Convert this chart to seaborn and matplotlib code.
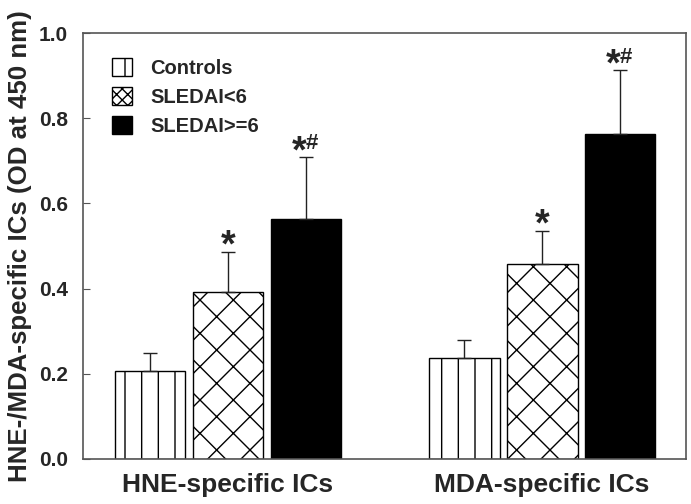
import pandas as pd
import matplotlib.pyplot as plt
import seaborn as sns
from matplotlib.patches import Patch

# Datos
groups = ["HNE-specific ICs", "MDA-specific ICs"]
levels = ["Controls", "SLEDAI<6", "SLEDAI>=6"]
means = {
    "Controls": [0.206, 0.236],
    "SLEDAI<6": [0.391, 0.457],
    "SLEDAI>=6": [0.564, 0.763],
}
errs = {
    "Controls": [0.042, 0.043],
    "SLEDAI<6": [0.096, 0.079],
    "SLEDAI>=6": [0.145, 0.150],
}
marks = {
    "Controls": ["", ""],
    "SLEDAI<6": ["*", "*"],
    "SLEDAI>=6": ["*#", "*#"],
}
yticks = [0.0, 0.2, 0.4, 0.6, 0.8, 1.0]

rows = []
for lv in levels:
    for g, m in zip(groups, means[lv]):
        rows.append({"Group": g, "Level": lv, "OD": m})
df = pd.DataFrame(rows)

sns.set_style("ticks")
plt.rcParams["font.family"] = ["Liberation Sans", "DejaVu Sans"]
plt.rcParams["hatch.color"] = "black"
plt.rcParams["hatch.linewidth"] = 1.0

fig = plt.figure(figsize=(6.91, 5.04), dpi=100)
ax = fig.add_axes([0.120, 0.0893, 0.873, 0.8452])

sns.barplot(data=df, x="Group", y="OD", hue="Level", hue_order=levels,
            palette=["white", "white", "black"], width=0.745, gap=0.09,
            edgecolor="black", linewidth=1.0, errorbar=None, legend=False, ax=ax)

hatches = {"Controls": "|", "SLEDAI<6": "x", "SLEDAI>=6": ""}
for lv, cont in zip(levels, ax.containers):
    for i, bar in enumerate(cont):
        bar.set_hatch(hatches[lv])
        cx = bar.get_x() + bar.get_width() / 2
        top = bar.get_height()
        e = errs[lv][i]
        ax.errorbar(cx, top, yerr=[[0], [e]], color="#222222", lw=1.0,
                    capsize=4.8, capthick=1.0, zorder=3)
        mk = marks[lv][i]
        if mk == "*":
            ax.text(cx, top + e - 0.031, "*", ha="center", va="bottom",
                    fontsize=27, fontweight="bold")
        elif mk == "*#":
            ax.text(cx + 0.002, top + e - 0.031, "*", ha="right", va="bottom",
                    fontsize=27, fontweight="bold")
            ax.text(cx, top + e + 0.006, "#", ha="left", va="bottom",
                    fontsize=16, fontweight="bold")

handles = [Patch(facecolor="white", edgecolor="black", hatch="|", label="Controls"),
           Patch(facecolor="white", edgecolor="black", hatch="xxx", label="SLEDAI<6"),
           Patch(facecolor="black", edgecolor="black", label="SLEDAI>=6")]
ax.legend(handles=handles, loc="upper left", bbox_to_anchor=(0.048, 0.941),
          frameon=False, borderpad=0, borderaxespad=0, handlelength=1.0,
          handleheight=1.0, handletextpad=0.9, labelspacing=0.45,
          prop={"weight": "bold", "size": 14.5})

ax.set_xlim(-0.462, 1.459)
ax.set_ylim(0, 1.0)
ax.set_yticks(yticks)
ax.set_yticklabels([f"{t:.1f}" for t in yticks], fontsize=15, fontweight="bold")
ax.set_xticks([0, 1])
ax.set_xticklabels(groups, fontsize=19, fontweight="bold")
ax.tick_params(axis="x", length=0, pad=10)
ax.tick_params(axis="y", direction="in", length=5, color="#555555", pad=11)
ax.set_xlabel("")
ax.set_ylabel("HNE-/MDA-specific ICs (OD at 450 nm)", fontsize=18.6, fontweight="bold", labelpad=5)
for s in ax.spines.values():
    s.set_visible(True)
    s.set_color("#555555")
    s.set_linewidth(1.2)

fig.savefig("out.png", dpi=100)
